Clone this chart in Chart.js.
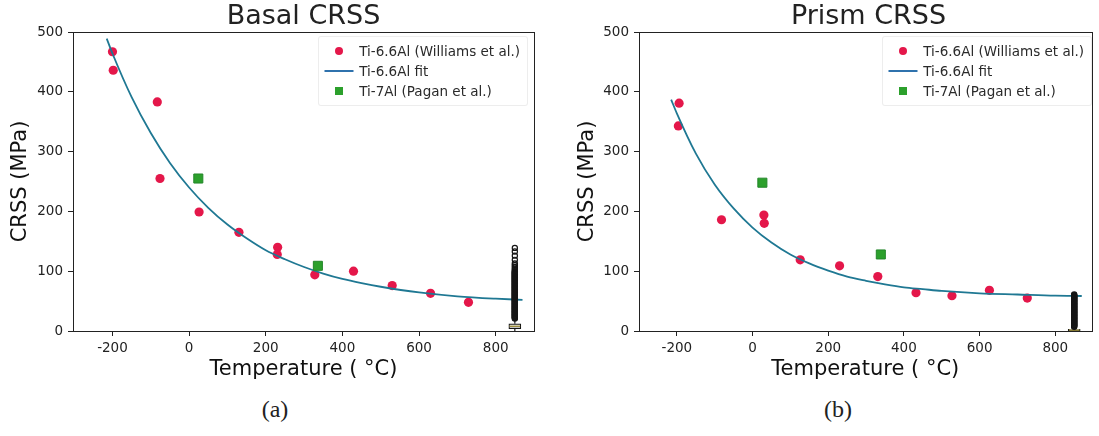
<!DOCTYPE html>
<html>
<head>
<meta charset="utf-8">
<script src="https://cdn.jsdelivr.net/npm/chart.js@4.4.1/dist/chart.umd.min.js"></script>
<style>
	body { margin: 0; background: #fff; width: 1099px; height: 436px; overflow: hidden; font-family: "DejaVu Sans", sans-serif; color: #222; }
	.panel { position: absolute; top: 0; width: 549px; height: 436px; }
	.plot { position: absolute; left: 0; top: 0; width: 549px; height: 392px; }
	.title { position: absolute; top: 1px; font-size: 27px; line-height: 27px; text-align: center; white-space: nowrap; }
	.caption { position: absolute; top: 397px; width: 60px; text-align: center; font-family: "Liberation Serif", serif; font-size: 24px; line-height: 24px; }
	.legend { position: absolute; top: 36px; padding: 4px 7px 4px 5px; background: rgba(255,255,255,0.8); border: 1px solid rgba(0,0,0,0.07); border-radius: 3px; font-size: 13.5px; color: #2a2a2a; }
	.legend div { height: 20px; line-height: 20px; white-space: nowrap; display: flex; align-items: center; }
	.handle { width: 29px; height: 20px; margin-right: 6px; position: relative; display: inline-block; }
	.handle i { position: absolute; left: 50%; top: 50%; transform: translate(-50%, -50%); }
	.dot { width: 8px; height: 8px; border-radius: 50%; background: #e4174a; }
	.line { width: 29px; height: 2px; background: #2f72ad; }
	.sq { width: 8px; height: 8px; background: #2ca02c; }
</style>
</head>
<body>
<div class="panel" style="left:0">
	<div class="plot"><canvas id="basal"></canvas></div>
	<div class="title" style="left:73px; width:461px">Basal CRSS</div>
	<div class="legend" style="right:21px">
		<div><span class="handle"><i class="dot"></i></span>Ti-6.6Al (Williams et al.)</div>
		<div><span class="handle"><i class="line"></i></span>Ti-6.6Al fit</div>
		<div><span class="handle"><i class="sq"></i></span>Ti-7Al (Pagan et al.)</div>
	</div>
	<div class="caption" style="left:245px">(a)</div>
</div>
<div class="panel" style="left:550px">
	<div class="plot"><canvas id="prism"></canvas></div>
	<div class="title" style="left:89px; width:459px">Prism CRSS</div>
	<div class="legend" style="right:7px">
		<div><span class="handle"><i class="dot"></i></span>Ti-6.6Al (Williams et al.)</div>
		<div><span class="handle"><i class="line"></i></span>Ti-6.6Al fit</div>
		<div><span class="handle"><i class="sq"></i></span>Ti-7Al (Pagan et al.)</div>
	</div>
	<div class="caption" style="left:258px">(b)</div>
</div>
<script>
const tempTicks = [-200, 0, 200, 400, 600, 800];
const crssTicks = [0, 100, 200, 300, 400, 500];

// basal slip
const basalWilliamsT = [-200, -198, -83, -76, 26, 130, 231, 230, 328, 429, 530, 630, 729];
const basalWilliamsCrss = [467, 436, 383, 255, 199, 165, 140, 128, 94, 100, 76, 63, 48];
const basalPaganT = [24, 336];
const basalPaganCrss = [255, 109];
const basalFitT = [-215, -200, -150, -100, -50, 0, 50, 100, 150, 200, 250, 300, 350, 400, 450, 500, 600, 700, 800, 870];
const basalFitCrss = [489, 464, 391, 331, 281, 240, 206, 178, 155, 135, 120, 107, 96, 87, 80, 74, 64.5, 58, 54, 52];
// simulated spread at 850 C: [whisker low, q1, median, q3, whisker high]
const basalBox = [0, 4, 8, 12, 19];
const basalOutliers = [
	21, 22, 23, 24, 25, 26, 27, 28, 29, 30, 31, 32, 33, 34, 35, 36, 37, 38, 39, 40,
	41, 42, 43, 44, 45, 46, 47, 48, 49, 50, 51, 52, 53, 54, 55, 56, 57, 58, 59, 60,
	61, 62, 63, 64, 65, 66, 67, 68, 69, 70, 71, 72, 73, 74, 75, 76, 77, 78, 79, 80,
	81, 82, 83, 84, 85, 86, 87, 88, 89, 90, 91, 92, 93, 94, 95, 96, 97, 98, 99, 100,
	102, 104, 107, 110, 113, 119, 126, 133, 139
];

// prism slip
const prismWilliamsT = [-194, -196, -82, 30, 31, 126, 230, 331, 432, 527, 626, 726];
const prismWilliamsCrss = [381, 343, 186, 194, 180, 119, 109, 91, 64, 59, 68, 55];
const prismPaganT = [26, 339];
const prismPaganCrss = [248, 128];
const prismFitT = [-215, -200, -150, -100, -50, 0, 50, 100, 150, 200, 250, 300, 350, 400, 450, 500, 600, 700, 800, 870];
const prismFitCrss = [387, 364, 297, 245, 205, 173, 148, 128, 113, 101, 91, 84, 78, 73, 70, 67, 63, 61, 59, 58.5];
const prismBox = [0, 0.5, 1.5, 3, 6];
const prismOutliers = [
	7, 8, 9, 10, 11, 12, 13, 14, 15, 16, 17, 18, 19, 20, 21, 22, 23, 24, 25, 26, 27, 28,
	29, 30, 31, 32, 33, 34, 35, 36, 37, 38, 39, 40, 41, 42, 43, 44, 45, 46, 47, 48, 49,
	50, 51, 52, 53, 54, 55, 56, 57, 58, 59, 60, 61
];

const boxT = 850;

Chart.defaults.font.family = '"DejaVu Sans", sans-serif';
Chart.defaults.color = '#222';

const red = '#e4174a';
const fitColor = '#1f7893';
const green = '#2ca02c';
const ink = '#151515';

function pts(xs, ys) {
	return xs.map((x, i) => ({x: x, y: ys[i]}));
}

// matplotlib-style box around the axes
const framePlugin = {
	id: 'frame',
	afterDraw(chart) {
		const a = chart.chartArea;
		const ctx = chart.ctx;
		ctx.save();
		ctx.strokeStyle = '#222';
		ctx.lineWidth = 1;
		ctx.strokeRect(Math.round(a.left) + 0.5, Math.round(a.top) + 0.5, Math.round(a.right - a.left), Math.round(a.bottom - a.top));
		ctx.restore();
	}
};

function makeChart(id, d, lay) {
	const tickFont = {size: 13.5};
	const labelFont = {size: 21};
	return new Chart(document.getElementById(id), {
		type: 'scatter',
		data: {
			datasets: [
				{label: 'Ti-6.6Al (Williams et al.)', data: pts(d.wT, d.wC), pointStyle: 'circle', pointRadius: 4.6, backgroundColor: red, borderColor: red, borderWidth: 0, order: 6},
				{label: 'Ti-6.6Al fit', type: 'line', data: pts(d.fT, d.fC), borderColor: fitColor, borderWidth: 1.8, pointRadius: 0, fill: false, cubicInterpolationMode: 'monotone', order: 5},
				{label: 'Ti-7Al (Pagan et al.)', data: pts(d.pT, d.pC), pointStyle: 'rect', pointRadius: 6.4, backgroundColor: green, borderColor: '#23862a', borderWidth: 1, order: 4},
				{type: 'line', data: [{x: boxT, y: d.box[0]}, {x: boxT, y: d.box[1]}], borderColor: ink, borderWidth: 1.2, pointRadius: 0, order: 3},
				{type: 'line', data: [{x: boxT, y: d.box[3]}, {x: boxT, y: d.box[4]}], borderColor: ink, borderWidth: 1.2, pointRadius: 0, order: 3},
				{type: 'bar', data: [{x: boxT, y: [d.box[1], d.box[3]]}], grouped: false, barThickness: 12, backgroundColor: '#fff', borderColor: ink, borderWidth: 1.2, borderSkipped: false, order: 2},
				{type: 'bar', data: [{x: boxT, y: [d.box[2] - 0.5, d.box[2] + 0.5]}], grouped: false, barThickness: 10, backgroundColor: '#8a7a1c', borderWidth: 0, order: 1},
				{data: d.out.map(v => ({x: boxT, y: v})), pointStyle: 'circle', pointRadius: 2.6, backgroundColor: 'rgba(0,0,0,0)', borderColor: ink, borderWidth: 1.2, order: 0}
			]
		},
		options: {
			responsive: true,
			maintainAspectRatio: false,
			animation: false,
			layout: {padding: {top: 32, right: lay.padRight, left: 0, bottom: 0}},
			plugins: {legend: {display: false}, tooltip: {enabled: false}},
			scales: {
				x: {
					type: 'linear', min: lay.xMin, max: lay.xMax, offset: false,
					afterBuildTicks: s => { s.ticks = tempTicks.map(v => ({value: v})); },
					afterFit: s => { s.height = 61; },
					border: {display: false},
					grid: {drawOnChartArea: false, drawTicks: true, tickLength: 5, tickColor: '#222', offset: false},
					ticks: {font: tickFont, padding: 4, maxRotation: 0, color: '#222'},
					title: {display: true, text: 'Temperature ( °C)', font: labelFont, color: '#111', padding: {top: 0, bottom: 10}}
				},
				y: {
					type: 'linear', min: 0, max: 500,
					afterBuildTicks: s => { s.ticks = crssTicks.map(v => ({value: v})); },
					afterFit: s => { s.width = lay.axisWidth; },
					border: {display: false},
					grid: {drawOnChartArea: false, drawTicks: true, tickLength: 5, tickColor: '#222'},
					ticks: {font: tickFont, padding: 5, color: '#222'},
					title: {display: true, text: 'CRSS (MPa)', font: labelFont, color: '#111', padding: {top: lay.titlePad, bottom: 0}}
				}
			}
		},
		plugins: [framePlugin]
	});
}

makeChart('basal', {
	wT: basalWilliamsT, wC: basalWilliamsCrss,
	pT: basalPaganT, pC: basalPaganCrss,
	fT: basalFitT, fC: basalFitCrss,
	box: basalBox, out: basalOutliers
}, {axisWidth: 73, titlePad: 7.5, padRight: 15, xMin: -303, xMax: 900});

makeChart('prism', {
	wT: prismWilliamsT, wC: prismWilliamsCrss,
	pT: prismPaganT, pC: prismPaganCrss,
	fT: prismFitT, fC: prismFitCrss,
	box: prismBox, out: prismOutliers
}, {axisWidth: 89, titlePad: 25, padRight: 1.5, xMin: -300, xMax: 896});
</script>
</body>
</html>
